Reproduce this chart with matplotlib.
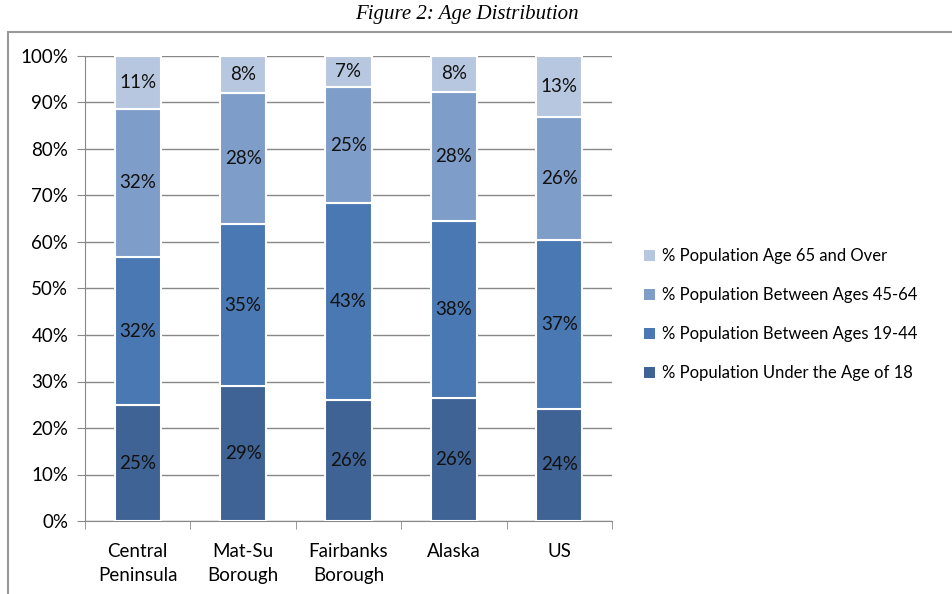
import matplotlib.pyplot as plt
import matplotlib.patches as mpatches
import numpy as np

# categories and series (percent of population)
categorias = ['Central\nPeninsula', 'Mat-Su\nBorough', 'Fairbanks\nBorough', 'Alaska', 'US']
sob_18 = [24.9, 29.0, 26.0, 26.4, 24.1]
idade_19_44 = [31.9, 34.9, 42.4, 38.1, 36.4]
idade_45_64 = [31.8, 28.1, 24.9, 27.8, 26.4]
acima_65 = [11.4, 8.0, 6.7, 7.7, 13.1]

rotulos_sob_18 = ['25%', '29%', '26%', '26%', '24%']
rotulos_19_44 = ['32%', '35%', '43%', '38%', '37%']
rotulos_45_64 = ['32%', '28%', '25%', '28%', '26%']
rotulos_65 = ['11%', '8%', '7%', '8%', '13%']

nomes = ['% Population Under the Age of 18',
         '% Population Between Ages 19-44',
         '% Population Between Ages 45-64',
         '% Population Age 65 and Over']
cores = ['#3F6394', '#4A78B2', '#7F9DC9', '#B8C7E0']

plt.rcParams['font.family'] = ['Lato', 'DejaVu Sans']

fig = plt.figure(figsize=(9.52, 5.94), dpi=100)
ax = fig.add_axes([85/952, 1 - 521/594, 527/952, 465/594])

x = np.arange(len(categorias))
series = [sob_18, idade_19_44, idade_45_64, acima_65]
rotulos = [rotulos_sob_18, rotulos_19_44, rotulos_45_64, rotulos_65]
base = np.zeros(len(categorias))
handles = []
for vals, cor, nome, rots in zip(series, cores, nomes, rotulos):
    barras = ax.bar(x, vals, bottom=base, width=0.44, color=cor,
                    edgecolor='white', linewidth=1.5, label=nome, zorder=3)
    for xi, b, v, r in zip(x, base, vals, rots):
        ax.text(xi, b + v / 2, r, ha='center', va='center', fontsize=13.5,
                color='#111111', zorder=4)
    base = base + np.array(vals)
    handles.append(barras)

ax.set_xlim(-0.5, len(categorias) - 0.5)
ax.set_ylim(0, 100)
ax.set_yticks(np.arange(0, 101, 10))
ax.set_yticklabels([f'{v}%' for v in range(0, 101, 10)], fontsize=13.5)
ax.yaxis.grid(True, color='#888888', linewidth=1, zorder=0)
ax.set_xticks(x)
ax.set_xticklabels(categorias, fontsize=13.5, linespacing=1.45)
ax.tick_params(axis='x', length=0, pad=16)
ax.set_xticks(np.arange(-0.5, len(categorias), 1), minor=True)
ax.tick_params(axis='x', which='minor', length=6, color='#888888')
ax.tick_params(axis='y', length=6, color='#888888', pad=6)
for lado in ['top', 'right']:
    ax.spines[lado].set_visible(False)
ax.spines['left'].set_color('#888888')
ax.spines['bottom'].set_color('#888888')

leg = ax.legend(handles=handles[::-1], labels=nomes[::-1], loc='center left',
                bbox_to_anchor=(552/527, (521 - 315)/465), frameon=False,
                fontsize=12, handlelength=0.7, handleheight=0.7,
                handletextpad=0.4, labelspacing=1.38, borderaxespad=0)
for h in leg.legend_handles:
    h.set_edgecolor('none')

# moldura externa
fig.patches.append(mpatches.Rectangle((8/952, -0.01), 950/952, 1 - 32/594 + 0.01,
                                      transform=fig.transFigure, fill=False,
                                      edgecolor='#999999', linewidth=1.5))

fig.text(467/952, 1 - 15/594, 'Figure 2: Age Distribution', ha='center', va='center',
         fontsize=15, style='italic', family='Liberation Serif')

fig.savefig('out.png', dpi=100)
